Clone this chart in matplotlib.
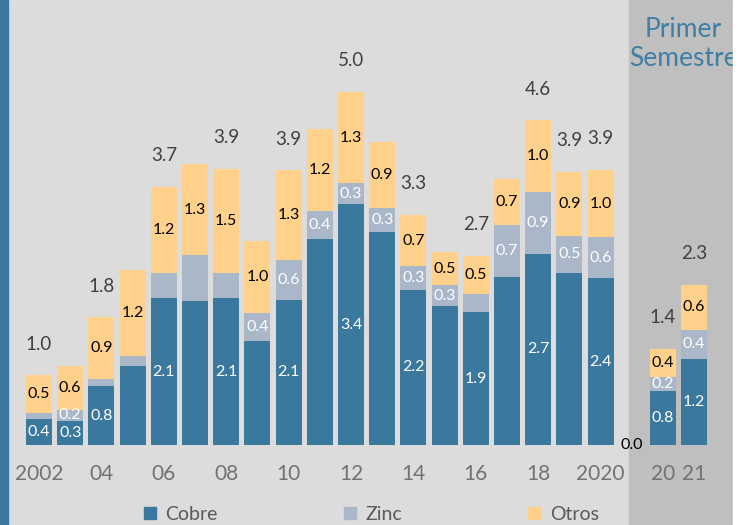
import matplotlib
matplotlib.use('Agg')
from matplotlib import pyplot as plt
from matplotlib.patches import Rectangle
from matplotlib.lines import Line2D
import numpy as np

plt.rcParams['font.family'] = ['Lato', 'DejaVu Sans']

# categories: 2002..2020, an empty slot, then first half of 2020 and 2021
categories = [str(y) for y in range(2002, 2021)] + ['', '1S20', '1S21']
tick_labels = ['2002', '', '04', '', '06', '', '08', '', '10', '', '12', '',
               '14', '', '16', '', '18', '', '2020', '', '20', '21']

cobre = [0.37, 0.34, 0.83, 1.12, 2.08, 2.04, 2.08, 1.48, 2.06, 2.92, 3.41,
         3.02, 2.20, 1.97, 1.88, 2.38, 2.71, 2.44, 2.36, 0.0, 0.77, 1.22]
zinc = [0.09, 0.16, 0.11, 0.14, 0.36, 0.65, 0.36, 0.39, 0.56, 0.39, 0.30,
        0.34, 0.33, 0.29, 0.26, 0.73, 0.88, 0.52, 0.58, 0.0, 0.20, 0.41]
otros = [0.53, 0.62, 0.87, 1.22, 1.22, 1.29, 1.47, 1.02, 1.27, 1.16, 1.29,
         0.93, 0.73, 0.47, 0.54, 0.66, 1.01, 0.91, 0.96, 0.0, 0.39, 0.64]

# which bars carry a value label
cobre_lab = [0, 1, 2, 4, 6, 8, 10, 12, 14, 16, 18, 20, 21]
zinc_lab = [1, 7, 8, 9, 10, 11, 12, 13, 15, 16, 17, 18, 20, 21]
otros_lab = list(range(len(categories)))
total_lab = [0, 2, 4, 6, 8, 10, 12, 14, 16, 17, 18, 20, 21]

c_cobre = '#3a789e'
c_zinc = '#a9b7c9'
c_otros = '#ffd18b'
c_bg = '#dcdcdc'
c_shade = '#bfbfbf'

W, H = 745, 525
fig = plt.figure(figsize=(W / 100, H / 100), dpi=100)
fig.patch.set_facecolor(c_bg)

# background blocks (left stripe, first-half shading, white margin)
fig.patches.append(Rectangle((0, 0), 8 / W, 1, transform=fig.transFigure,
                             color=c_cobre, zorder=-2))
fig.patches.append(Rectangle((629 / W, 0), 104 / W, 1, transform=fig.transFigure,
                             color=c_shade, zorder=-2))
fig.patches.append(Rectangle((733 / W, 0), 12 / W, 1, transform=fig.transFigure,
                             color='white', zorder=20))

ax = fig.add_axes([0, 80 / H, 1, 445 / H])
ax.set_zorder(1)
ax.set_facecolor('none')
x = np.arange(len(categories))
cobre = np.array(cobre)
zinc = np.array(zinc)
otros = np.array(otros)
total = cobre + zinc + otros

w = 0.83
ax.bar(x, cobre, w, color=c_cobre)
ax.bar(x, zinc, w, bottom=cobre, color=c_zinc)
ax.bar(x, otros, w, bottom=cobre + zinc, color=c_otros)

lab_fs = 11.5
for i in cobre_lab:
    ax.text(x[i], cobre[i] / 2, '%.1f' % cobre[i], ha='center', va='center',
            color='white', fontsize=lab_fs)
for i in zinc_lab:
    ax.text(x[i], cobre[i] + zinc[i] / 2, '%.1f' % zinc[i], ha='center',
            va='center', color='white', fontsize=lab_fs)
for i in otros_lab:
    ax.text(x[i], cobre[i] + zinc[i] + otros[i] / 2, '%.1f' % otros[i],
            ha='center', va='center', color='black', fontsize=lab_fs)
for i in total_lab:
    ax.text(x[i], total[i] + 0.44, '%.1f' % total[i], ha='center',
            va='center', color='#404040', fontsize=13.5)

ax.set_xlim(-39 / 31.2, (W - 39) / 31.2)
ax.set_ylim(0, 445 / 70.6)
ax.set_xticks(x)
ax.set_xticklabels(tick_labels, fontsize=15, color='#767171')
ax.tick_params(axis='x', length=0, pad=14)
ax.set_yticks([])
for s in ax.spines.values():
    s.set_visible(False)

fig.text(683 / W, 1 - 44 / H, 'Primer\nSemestre', ha='center', va='center',
         fontsize=19, color='#3f7fa6', zorder=5)

handles = [Line2D([], [], ls='none', marker='s', markersize=8, color=c)
           for c in (c_cobre, c_zinc, c_otros)]
fig.legend(handles, ['Cobre', 'Zinc', 'Otros'], loc='center', ncol=3,
           bbox_to_anchor=(0.497, 0.02), frameon=False, fontsize=14,
           handlelength=0.8, handletextpad=0.4, columnspacing=6.4,
           labelcolor='#595959')

fig.savefig('out.png', dpi=100, facecolor=fig.get_facecolor())
